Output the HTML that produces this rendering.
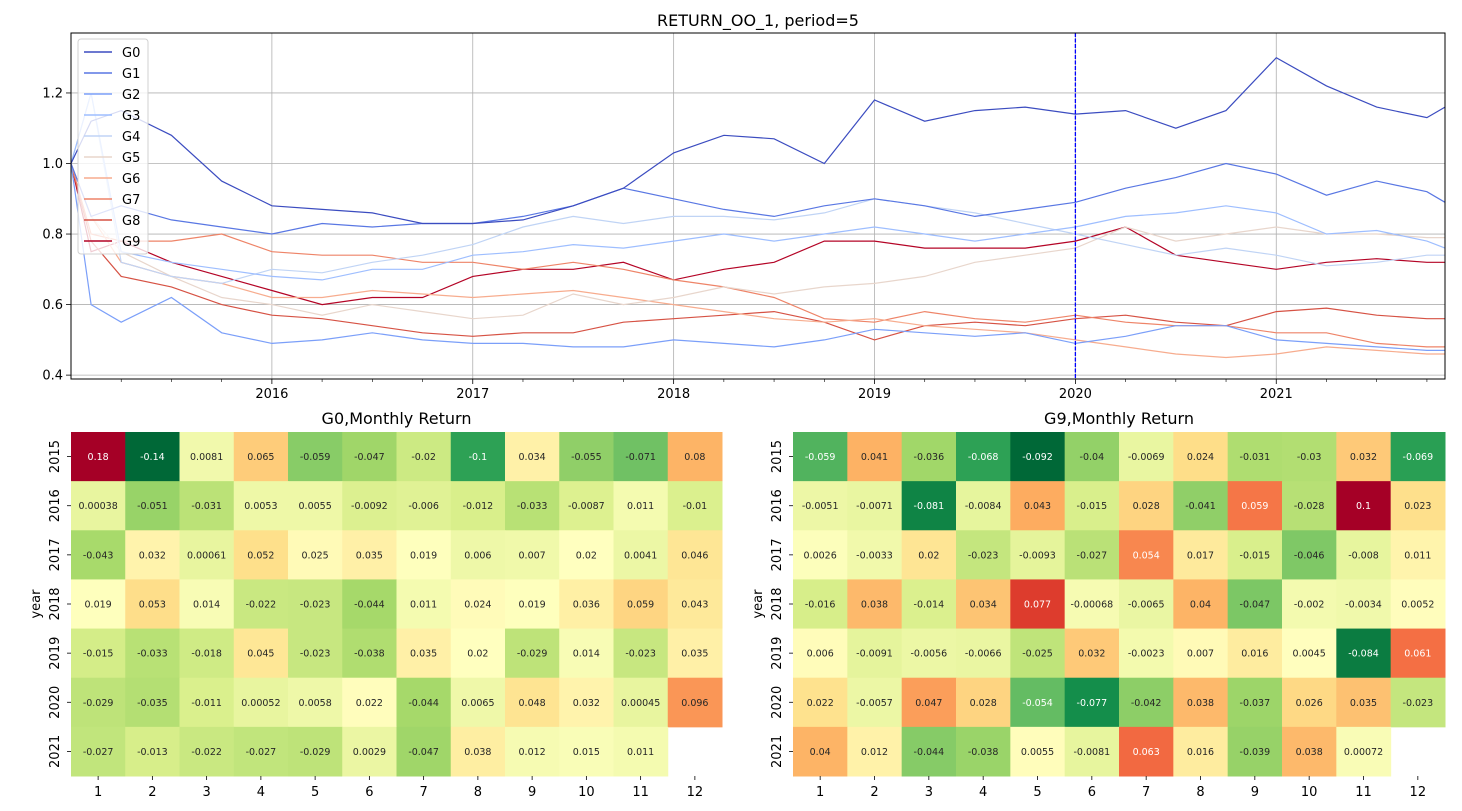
<!DOCTYPE html>
<html><head><meta charset="utf-8"><style>
body{margin:0;background:#fff;}
svg{display:block;font-family:"DejaVu Sans","Liberation Sans",sans-serif;}
</style></head><body>
<svg id="chart" width="1462" height="811" xmlns="http://www.w3.org/2000/svg"></svg>
<script>
const times=[2015.0,2015.1,2015.25,2015.5,2015.75,2016.0,2016.25,2016.5,2016.75,2017.0,2017.25,2017.5,2017.75,2018.0,2018.25,2018.5,2018.75,2019.0,2019.25,2019.5,2019.75,2020.0,2020.25,2020.5,2020.75,2021.0,2021.25,2021.5,2021.75,2021.84];
const seriesNames=["G0","G1","G2","G3","G4","G5","G6","G7","G8","G9"];
const g0=[1.0,1.12,1.15,1.08,0.95,0.88,0.87,0.86,0.83,0.83,0.84,0.88,0.93,1.03,1.08,1.07,1.0,1.18,1.12,1.15,1.16,1.14,1.15,1.10,1.15,1.30,1.22,1.16,1.13,1.16];
const g1=[1.0,0.85,0.88,0.84,0.82,0.80,0.83,0.82,0.83,0.83,0.85,0.88,0.93,0.90,0.87,0.85,0.88,0.90,0.88,0.85,0.87,0.89,0.93,0.96,1.0,0.97,0.91,0.95,0.92,0.89];
const g2=[1.0,0.60,0.55,0.62,0.52,0.49,0.50,0.52,0.50,0.49,0.49,0.48,0.48,0.50,0.49,0.48,0.50,0.53,0.52,0.51,0.52,0.49,0.51,0.54,0.54,0.50,0.49,0.48,0.47,0.47];
const g3=[1.0,1.20,0.75,0.72,0.70,0.68,0.67,0.70,0.70,0.74,0.75,0.77,0.76,0.78,0.80,0.78,0.80,0.82,0.80,0.78,0.80,0.82,0.85,0.86,0.88,0.86,0.80,0.81,0.78,0.76];
const g4=[1.0,1.20,0.72,0.68,0.66,0.70,0.69,0.72,0.74,0.77,0.82,0.85,0.83,0.85,0.85,0.84,0.86,0.90,0.88,0.86,0.83,0.80,0.77,0.74,0.76,0.74,0.71,0.72,0.74,0.74];
const g5=[1.0,0.85,0.75,0.68,0.62,0.60,0.57,0.60,0.58,0.56,0.57,0.63,0.60,0.62,0.65,0.63,0.65,0.66,0.68,0.72,0.74,0.76,0.82,0.78,0.80,0.82,0.80,0.80,0.79,0.79];
const g6=[1.0,0.85,0.72,0.68,0.66,0.62,0.62,0.64,0.63,0.62,0.63,0.64,0.62,0.60,0.58,0.56,0.55,0.56,0.54,0.53,0.52,0.50,0.48,0.46,0.45,0.46,0.48,0.47,0.46,0.46];
const g7=[1.0,0.80,0.78,0.78,0.80,0.75,0.74,0.74,0.72,0.72,0.70,0.72,0.70,0.67,0.65,0.62,0.56,0.55,0.58,0.56,0.55,0.57,0.55,0.54,0.54,0.52,0.52,0.49,0.48,0.48];
const g8=[1.0,0.78,0.68,0.65,0.60,0.57,0.56,0.54,0.52,0.51,0.52,0.52,0.55,0.56,0.57,0.58,0.55,0.50,0.54,0.55,0.54,0.56,0.57,0.55,0.54,0.58,0.59,0.57,0.56,0.56];
const g9=[1.0,0.75,0.78,0.72,0.68,0.64,0.60,0.62,0.62,0.68,0.70,0.70,0.72,0.67,0.70,0.72,0.78,0.78,0.76,0.76,0.76,0.78,0.82,0.74,0.72,0.70,0.72,0.73,0.72,0.72];
const seriesColors=["#3b4cc0","#5977e3","#7b9ff9","#9ebeff","#c0d4f5","#e8d6cc","#f7ac8e","#ee8468","#d65244","#b40426"];
const yTicks=[0.4,0.6,0.8,1.0,1.2];
const xTicks=[2016,2017,2018,2019,2020,2021];
const months=[1,2,3,4,5,6,7,8,9,10,11,12];
const years=[2015,2016,2017,2018,2019,2020,2021];
const hm0=[
[0.18,-0.14,0.0081,0.065,-0.059,-0.047,-0.02,-0.1,0.034,-0.055,-0.071,0.08],
[0.00038,-0.051,-0.031,0.0053,0.0055,-0.0092,-0.006,-0.012,-0.033,-0.0087,0.011,-0.01],
[-0.043,0.032,0.00061,0.052,0.025,0.035,0.019,0.006,0.007,0.02,0.0041,0.046],
[0.019,0.053,0.014,-0.022,-0.023,-0.044,0.011,0.024,0.019,0.036,0.059,0.043],
[-0.015,-0.033,-0.018,0.045,-0.023,-0.038,0.035,0.02,-0.029,0.014,-0.023,0.035],
[-0.029,-0.035,-0.011,0.00052,0.0058,0.022,-0.044,0.0065,0.048,0.032,0.00045,0.096],
[-0.027,-0.013,-0.022,-0.027,-0.029,0.0029,-0.047,0.038,0.012,0.015,0.011,null]];
const hm9=[
[-0.059,0.041,-0.036,-0.068,-0.092,-0.04,-0.0069,0.024,-0.031,-0.03,0.032,-0.069],
[-0.0051,-0.0071,-0.081,-0.0084,0.043,-0.015,0.028,-0.041,0.059,-0.028,0.1,0.023],
[0.0026,-0.0033,0.02,-0.023,-0.0093,-0.027,0.054,0.017,-0.015,-0.046,-0.008,0.011],
[-0.016,0.038,-0.014,0.034,0.077,-0.00068,-0.0065,0.04,-0.047,-0.002,-0.0034,0.0052],
[0.006,-0.0091,-0.0056,-0.0066,-0.025,0.032,-0.0023,0.007,0.016,0.0045,-0.084,0.061],
[0.022,-0.0057,0.047,0.028,-0.054,-0.077,-0.042,0.038,-0.037,0.026,0.035,-0.023],
[0.04,0.012,-0.044,-0.038,0.0055,-0.0081,0.063,0.016,-0.039,0.038,0.00072,null]];

const NS="http://www.w3.org/2000/svg";
const svg=document.getElementById('chart');
function mk(tag,attrs,parent){const e=document.createElementNS(NS,tag);for(const k in attrs)e.setAttribute(k,attrs[k]);(parent||svg).appendChild(e);return e;}
function txt(s,attrs,parent){const e=mk('text',attrs,parent);e.textContent=s;return e;}

const L=71,R=1445,T=33,B=379;
const xMin=2015.0,xMax=2021.84,yMin=0.389,yMax=1.37;
const sx=t=>L+(t-xMin)/(xMax-xMin)*(R-L);
const sy=v=>B-(v-yMin)/(yMax-yMin)*(B-T);
const topG=mk('g',{});


const title=txt('RETURN_OO_1, period=5',{x:(L+R)/2,y:26,'text-anchor':'middle','font-size':16,fill:'#000'});


xTicks.forEach(t=>{const x=sx(t);
 const g=mk('line',{x1:x,x2:x,y1:T,y2:B,stroke:'#b0b0b0','stroke-width':0.8},topG);
 
 
 mk('line',{x1:x,x2:x,y1:B,y2:B+5,stroke:'#000','stroke-width':0.8},topG);
 const l=txt(String(t),{x:x,y:B+19,'text-anchor':'middle','font-size':13,fill:'#000'},topG);
 
 
});
for(let t=2015.25;t<xMax;t+=0.25){if(Math.abs(t-Math.round(t))<0.01)continue;const x=sx(t);mk('line',{x1:x,x2:x,y1:B,y2:B+3,stroke:'#000','stroke-width':0.6},topG);}
yTicks.forEach(v=>{const y=sy(v);
 const g=mk('line',{x1:L,x2:R,y1:y,y2:y,stroke:'#b0b0b0','stroke-width':0.8},topG);
 
 
 mk('line',{x1:L-5,x2:L,y1:y,y2:y,stroke:'#000','stroke-width':0.8},topG);
 const l=txt(v.toFixed(1),{x:L-8,y:y+4.5,'text-anchor':'end','font-size':13,fill:'#000'},topG);
 
 
});
const allSeries=[g0,g1,g2,g3,g4,g5,g6,g7,g8,g9];
for(let i=allSeries.length-1;i>=0;i--){
 const d=allSeries[i].map((v,k)=>(k?'L':'M')+sx(times[k]).toFixed(1)+','+sy(v).toFixed(1)).join('');
 const p=mk('path',{d:d,fill:'none',stroke:seriesColors[i],'stroke-width':1.2},topG);
 
 
}
const vx=sx(2020.0);
const vl=mk('line',{x1:vx,x2:vx,y1:T,y2:B,stroke:'#0000ff','stroke-width':1.3,'stroke-dasharray':'4,1.5'},topG);


mk('rect',{x:L,y:T,width:R-L,height:B-T,fill:'none',stroke:'#000','stroke-width':1},topG);
const leg=mk('g',{},topG);


mk('rect',{x:78,y:39,width:70,height:215,rx:3,fill:'#fff','fill-opacity':0.8,stroke:'#d0d0d0'},leg);
seriesNames.forEach((n,i)=>{const y=52+i*21;
 const e=mk('g',{},leg);
 
 
 mk('line',{x1:84,x2:112,y1:y,y2:y,stroke:seriesColors[i],'stroke-width':1.5},e);
 txt(n,{x:122,y:y+5,'font-size':13,fill:'#000'},e);
});

const cmapStops=["#006837","#1a9850","#66bd63","#a6d96a","#d9ef8b","#ffffbf","#fee08b","#fdae61","#f46d43","#d73027","#a50026"];
function hex(c){return [1,3,5].map(i=>parseInt(c.substr(i,2),16));}
function cmap(f){f=Math.max(0,Math.min(1,f));const p=f*10;const i=Math.min(9,Math.floor(p));const r=p-i;
 const a=hex(cmapStops[i]),b=hex(cmapStops[i+1]);return a.map((v,k)=>Math.round(v+(b[k]-v)*r));}
function lum(c){const l=c.map(v=>{v/=255;return v<=0.03928?v/12.92:Math.pow((v+0.055)/1.055,2.4);});return 0.2126*l[0]+0.7152*l[1]+0.0722*l[2];}
function drawHeat(data,x0,x1,ttl,name){
 const y0=432,y1=776;const cw=(x1-x0)/12,ch=(y1-y0)/7;
 const g=mk('g',{});
 
 
 const flat=data.flat().filter(v=>v!==null);const mn=Math.min(...flat),mx=Math.max(...flat);
 const t=txt(ttl,{x:(x0+x1)/2,y:424,'text-anchor':'middle','font-size':16,fill:'#000'},g);
 
 
 data.forEach((row,r)=>row.forEach((v,c)=>{if(v===null)return;
  const col=cmap((v-mn)/(mx-mn));
  const cell=mk('rect',{x:x0+c*cw,y:y0+r*ch,width:cw+0.5,height:ch+0.5,fill:'rgb('+col.join(',')+')'},g);
  
  
  const lb=txt(String(v),{x:x0+(c+0.5)*cw,y:y0+(r+0.5)*ch+3.5,'text-anchor':'middle','font-size':9.5,fill:lum(col)>0.408?'#262626':'#fff'},g);
  
  
 }));
 months.forEach((m,c)=>{const x=x0+(c+0.5)*cw;
  mk('line',{x1:x,x2:x,y1:y1,y2:y1+4,stroke:'#000','stroke-width':0.8},g);
  const l=txt(String(m),{x:x,y:y1+20,'text-anchor':'middle','font-size':13,fill:'#000'},g);
  
  
 });
 years.forEach((yr,r)=>{const y=y0+(r+0.5)*ch;
  mk('line',{x1:x0-4,x2:x0,y1:y,y2:y,stroke:'#000','stroke-width':0.8},g);
  const l=txt(String(yr),{x:x0-12,y:y,'text-anchor':'middle','font-size':13,fill:'#000',transform:'rotate(-90 '+(x0-12)+' '+y+')'},g);
  
  
 });
 const yl=txt('year',{x:x0-31,y:(y0+y1)/2,'text-anchor':'middle','font-size':13,fill:'#000',transform:'rotate(-90 '+(x0-31)+' '+((y0+y1)/2)+')'},g);
 
 
}
drawHeat(hm0,71,722,'G0,Monthly Return','heatmap-g0');
drawHeat(hm9,793,1445,'G9,Monthly Return','heatmap-g9');
</script>
</body></html>
